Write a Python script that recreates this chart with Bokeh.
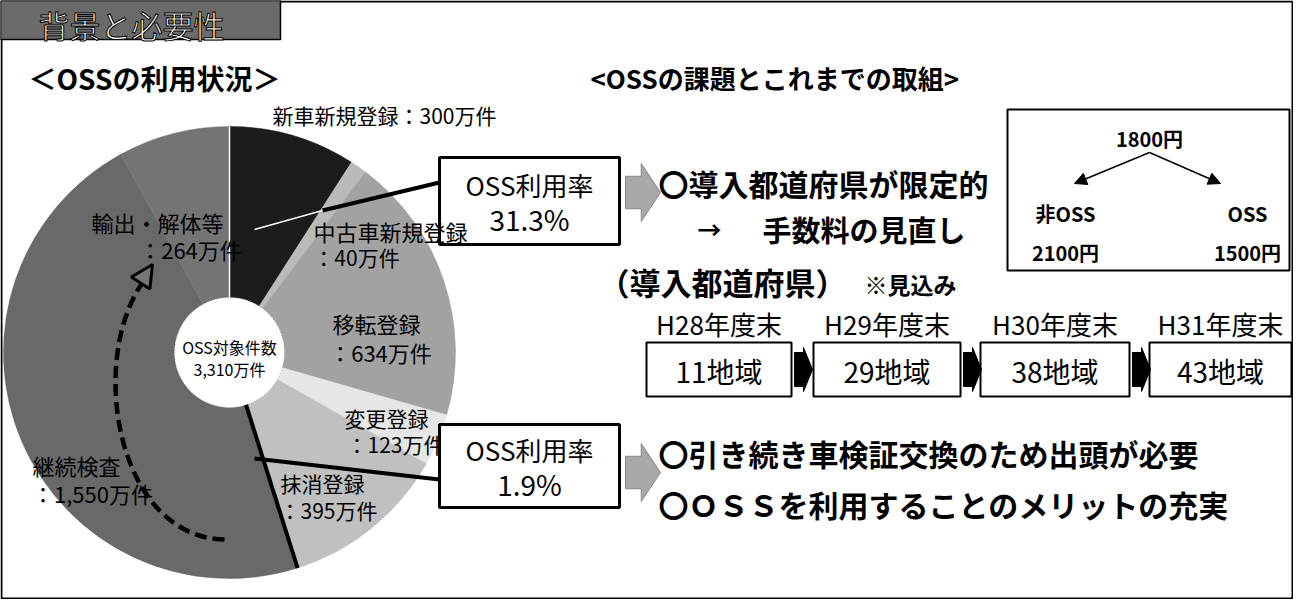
import numpy as np
from bokeh.plotting import figure
from bokeh.models import Range1d, Arrow, NormalHead
from bokeh.core.properties import value
from bokeh.embed import file_html
from bokeh.resources import INLINE

# ---------------- data ----------------
categories = ["新車新規登録", "中古車新規登録", "移転登録", "変更登録", "抹消登録", "継続検査", "輸出・解体等"]
counts_man = [300, 40, 634, 123, 395, 1550, 264]          # 万件
count_labels = ["300万件", "40万件", "634万件", "123万件", "395万件", "1,550万件", "264万件"]
slice_colors = ["#1c1c1c", "#bababa", "#a2a2a2", "#e6e6e6", "#c0c0c0", "#696969", "#747474"]
total_label = "3,310万件"
oss_rates = ["31.3%", "1.9%"]
years = ["H28年度末", "H29年度末", "H30年度末", "H31年度末"]
regions = ["11地域", "29地域", "38地域", "43地域"]
fee_before = "1800円"
fee_groups = ["非OSS", "OSS"]
fee_after = ["2100円", "1500円"]

FONT = value("Noto Sans CJK JP")
H = 615


def Y(py):
    return H - py


p = figure(width=1293, height=599, x_range=Range1d(8, 1301), y_range=Range1d(8, 607),
           output_backend="svg", toolbar_location=None, min_border=0)
p.axis.visible = False
p.grid.visible = False
p.outline_line_color = None
p.background_fill_color = "white"


def txt(x, y, s, size, bold=False, color="black", align="center", outline=None):
    kw = {}
    if outline:
        kw["text_outline_color"] = outline
    p.text(x=[x], y=[Y(y)], text=[s], text_font=FONT, text_font_size=size,
           text_font_style="bold" if bold else "normal", text_color=color,
           text_align=align, text_baseline="middle", **kw)


# ---------------- frame & title ----------------
p.quad(left=[9], right=[1300], top=[Y(9)], bottom=[Y(606)], fill_color=None,
       line_color="black", line_width=2)
p.quad(left=[8], right=[288], top=[Y(8)], bottom=[Y(47)], fill_color="#6a6a6a",
       line_color="black", line_width=1.5)
txt(46, 32, "背景と必要性", "31px", color="white", align="left", outline="black")

txt(36, 85, "＜OSSの利用状況＞", "28px", bold=True, align="left")
txt(598, 85, "<OSSの課題とこれまでの取組>", "26px", bold=True, align="left")

# ---------------- donut ----------------
cx, cy = 237, 360
r_in, r_out = 55, 226
vals = np.array(counts_man, dtype=float)
frac = vals / vals.sum()
cum_end = np.cumsum(frac)
cum_start = cum_end - frac
start_ang = np.pi / 2 - 2 * np.pi * cum_start
end_ang = np.pi / 2 - 2 * np.pi * cum_end
p.annular_wedge(x=cx, y=Y(cy), inner_radius=r_in, outer_radius=r_out,
                start_angle=start_ang, end_angle=end_ang, direction="clock",
                fill_color=slice_colors, line_color=slice_colors, line_width=0.5)
p.circle(x=[cx], y=[Y(cy)], radius=r_in, fill_color="white", line_color="#9a9a9a",
         line_dash="1 2", line_width=1)

# thin white line at the start of the first slice (12 o'clock)
a0 = start_ang[0]
p.segment(x0=[cx + r_in * np.cos(a0)], y0=[Y(cy) + r_in * np.sin(a0)],
          x1=[cx + r_out * np.cos(a0)], y1=[Y(cy) + r_out * np.sin(a0)],
          line_color="white", line_width=1.5)

# thick black boundary between 抹消登録 and 継続検査
k = categories.index("継続検査")
a = start_ang[k]
p.segment(x0=[cx + r_in * np.cos(a)], y0=[Y(cy) + r_in * np.sin(a)],
          x1=[cx + r_out * np.cos(a)], y1=[Y(cy) + r_out * np.sin(a)],
          line_color="black", line_width=4)

txt(cx, 354, "OSS対象件数", "16px")
txt(cx, 376, total_label, "16px")

# slice labels
txt(280, 122, categories[0] + "：" + count_labels[0], "21px", align="left")
txt(364, 264, "：" + count_labels[1], "21px")
txt(384, 330, categories[2], "22px")
txt(388, 359, "：" + count_labels[2], "22px")
txt(394, 425, categories[3], "21px")
txt(403, 451, "：" + count_labels[3], "21px")
txt(330, 490, categories[4], "21px")
txt(336, 517, "：" + count_labels[4], "21px")
txt(84, 472, categories[5], "22px")
txt(100, 500, "：" + count_labels[5], "22px")
txt(165, 229, categories[6], "22px")
txt(198, 256, "：" + count_labels[6], "22px")

# dashed curved arrow
p.bezier(x0=[232], y0=[Y(547)], x1=[150], y1=[Y(290)], cx0=[125], cy0=[Y(545)],
         cx1=[95], cy1=[Y(370)], line_color="black", line_width=4.5, line_dash="12 6")
p.add_layout(Arrow(end=NormalHead(size=22, fill_color="#777777", line_color="black", line_width=3),
                   x_start=142, y_start=Y(300), x_end=160, y_end=Y(272), line_alpha=0))

# ---------------- callout boxes ----------------
p.line(x=[447, 330], y=[Y(190), Y(218)], line_color="black", line_width=4)
p.line(x=[330, 262], y=[Y(218), Y(237)], line_color="white", line_width=1.5)
p.line(x=[447, 262], y=[Y(487), Y(466)], line_color="black", line_width=4)

for (top, bot), rate in zip([(165, 252), (432, 515)], oss_rates):
    p.quad(left=[447], right=[627], top=[Y(top)], bottom=[Y(bot)], fill_color="white",
           line_color="black", line_width=3)
    mid = (top + bot) / 2
    txt(537, mid - 17, "OSS利用率", "26px")
    txt(537, mid + 18, rate, "28px")

# label that overlaps the box edge is drawn on top
txt(398, 238, categories[1], "22px")


def block_arrow(x0, x1, yc, h):
    xm = x0 + (x1 - x0) * 0.45
    xs = [x0, xm, xm, x1, xm, xm, x0]
    ys = [yc - h * 0.28, yc - h * 0.28, yc - h * 0.5, yc, yc + h * 0.5, yc + h * 0.28, yc + h * 0.28]
    p.patch(x=xs, y=[Y(v) for v in ys], fill_color="#a8a8a8", line_color="#888888", line_width=1)


block_arrow(633, 668, 200, 58)
block_arrow(633, 668, 480, 58)

# ---------------- right panel ----------------
txt(666, 190, "〇導入都道府県が限定的", "30px", bold=True, align="left")
txt(705, 236, "→", "24px", bold=True, align="left")
txt(770, 236, "手数料の見直し", "29px", bold=True, align="left")
txt(606, 289, "（導入都道府県）", "31px", bold=True, align="left")
txt(872, 291, "※見込み", "23px", bold=True, align="left")

# fee box
p.quad(left=[1015], right=[1297], top=[Y(117)], bottom=[Y(278)], fill_color="white",
       line_color="black", line_width=2)
txt(1157, 146, fee_before, "20px", bold=True)
for xe in (1082, 1228):
    p.add_layout(Arrow(end=NormalHead(size=12, fill_color="black", line_color="black"),
                       x_start=1157, y_start=Y(160), x_end=xe, y_end=Y(191), line_width=1.5))
for xc, g, f in zip((1073, 1255), fee_groups, fee_after):
    txt(xc, 221, g, "20px", bold=True)
    txt(xc, 260, f, "20px", bold=True)

# timeline
box_lefts = [654, 821, 988, 1157]
box_rights = [799, 968, 1137, 1299]
for lft, rgt, yr, rg in zip(box_lefts, box_rights, years, regions):
    xc = (lft + rgt) / 2
    txt(xc, 331, yr, "26px")
    p.quad(left=[lft], right=[rgt], top=[Y(350)], bottom=[Y(404)], fill_color="white",
           line_color="black", line_width=2)
    txt(xc, 378, rg, "28px")
for rgt in box_rights[:-1]:
    x0 = rgt + 3
    xs = [x0, x0 + 9, x0 + 9, x0 + 18, x0 + 9, x0 + 9, x0]
    ys = [360, 360, 355, 377, 399, 394, 394]
    p.patch(x=xs, y=[Y(v) for v in ys], fill_color="black", line_color="black")

txt(666, 460, "〇引き続き車検証交換のため出頭が必要", "30px", bold=True, align="left")
txt(666, 511, "〇ＯＳＳを利用することのメリットの充実", "30px", bold=True, align="left")

open("out.html", "w").write(file_html(p, INLINE))
